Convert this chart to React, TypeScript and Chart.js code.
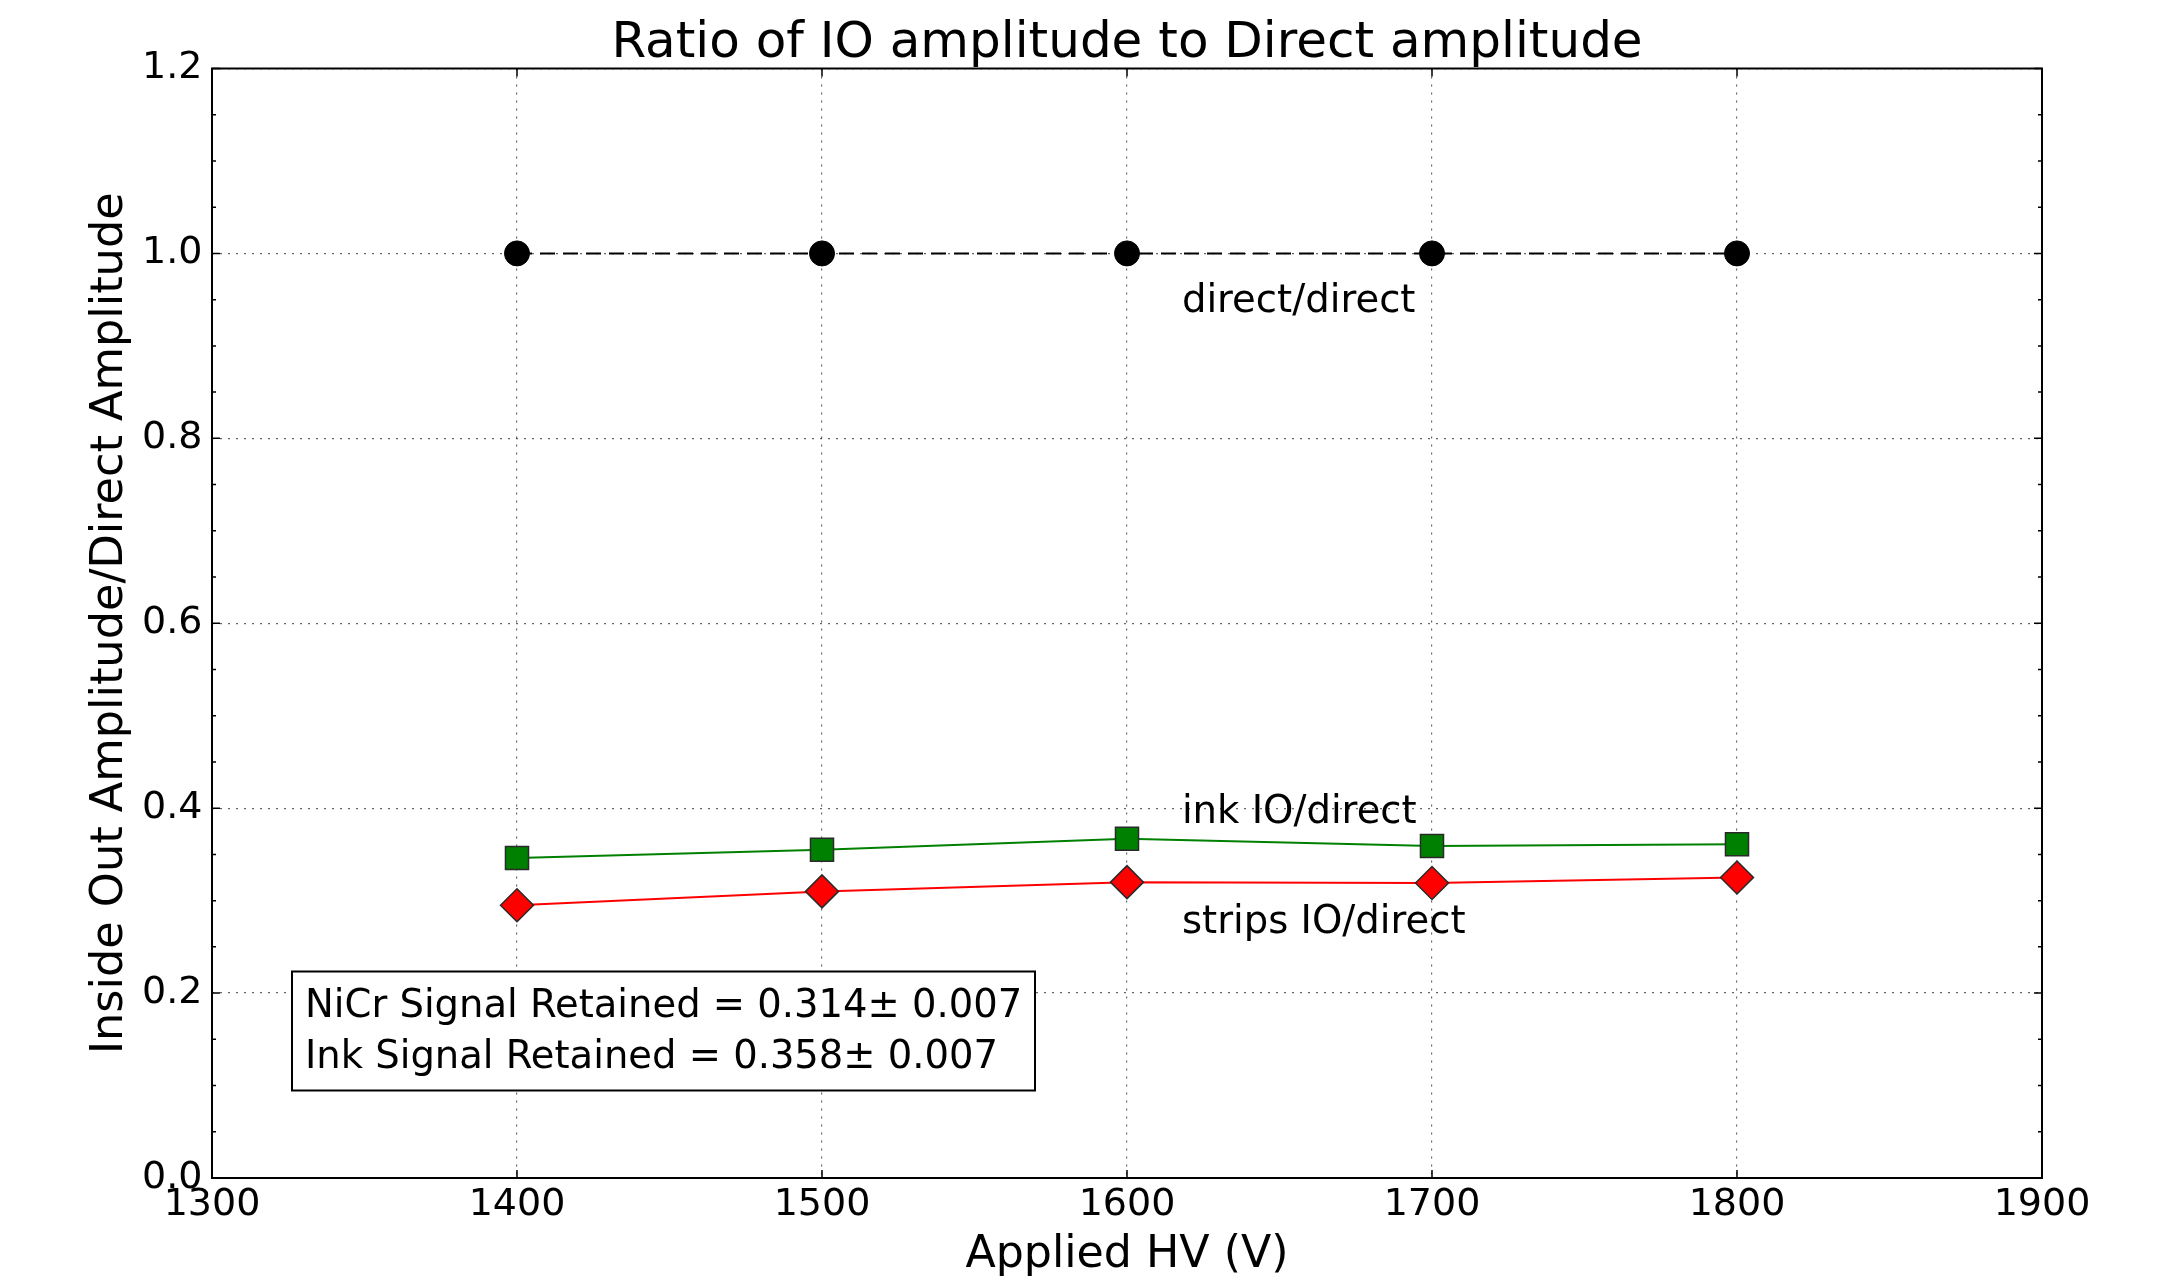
import React, { useEffect, useRef } from 'react';
import { Chart, registerables } from 'chart.js';

Chart.register(...registerables);

// ---- data ----
const hvValues = [1400, 1500, 1600, 1700, 1800];
const directRatio = [1.0, 1.0, 1.0, 1.0, 1.0];
const inkRatio = [0.346, 0.355, 0.367, 0.359, 0.361];
const stripsRatio = [0.295, 0.31, 0.32, 0.319, 0.325];

const xTickValues = [1300, 1400, 1500, 1600, 1700, 1800, 1900];
const xTickLabels = ['1300', '1400', '1500', '1600', '1700', '1800', '1900'];
const yTickValues = [0.0, 0.2, 0.4, 0.6, 0.8, 1.0, 1.2];
const yTickLabels = ['0.0', '0.2', '0.4', '0.6', '0.8', '1.0', '1.2'];
const yMinorTickValues = [0.05, 0.1, 0.15, 0.25, 0.3, 0.35, 0.45, 0.5, 0.55, 0.65, 0.7, 0.75, 0.85, 0.9, 0.95, 1.05, 1.1, 1.15];

const seriesNames = ['direct/direct', 'ink IO/direct', 'strips IO/direct'];
const seriesLabelX = [1618, 1618, 1618];
const seriesLabelY = [0.937, 0.384, 0.265];

const titleText = 'Ratio of IO amplitude to Direct amplitude';
const xAxisTitle = 'Applied HV (V)';
const yAxisTitle = 'Inside Out Amplitude/Direct Amplitude';
const boxLines = ['NiCr Signal Retained = 0.314\u00b1 0.007', 'Ink Signal Retained = 0.358\u00b1 0.007'];

const FONT = '"DejaVu Sans", "Liberation Sans", sans-serif';

const decorPlugin = {
  id: 'decor',
  afterDatasetsDraw(chart: any) {
    const { ctx, chartArea } = chart;
    const xs = chart.scales.x;
    const ys = chart.scales.y;
    const { left, right, top, bottom } = chartArea;
    ctx.save();

    // annotation labels
    ctx.fillStyle = '#000';
    ctx.font = `38.6px ${FONT}`;
    ctx.textAlign = 'left';
    ctx.textBaseline = 'alphabetic';
    seriesNames.forEach((name, i) => {
      ctx.fillText(name, xs.getPixelForValue(seriesLabelX[i]), ys.getPixelForValue(seriesLabelY[i]));
    });

    // text box
    const bx = left + 80;
    const by = top + 903;
    const bw = 743;
    const bh = 119;
    ctx.fillStyle = '#fff';
    ctx.fillRect(bx, by, bw, bh);
    ctx.strokeStyle = '#000';
    ctx.lineWidth = 2;
    ctx.strokeRect(bx, by, bw, bh);
    ctx.fillStyle = '#000';
    ctx.font = `38.5px ${FONT}`;
    ctx.fillText(boxLines[0], bx + 13, by + 45);
    ctx.fillText(boxLines[1], bx + 13, by + 96);

    // frame
    ctx.strokeStyle = '#000';
    ctx.lineWidth = 2;
    ctx.setLineDash([]);
    ctx.strokeRect(left, top, right - left, bottom - top);

    // inward ticks
    ctx.lineWidth = 1.5;
    ctx.beginPath();
    xTickValues.forEach((v) => {
      const px = xs.getPixelForValue(v);
      ctx.moveTo(px, bottom);
      ctx.lineTo(px, bottom - 8);
      ctx.moveTo(px, top);
      ctx.lineTo(px, top + 8);
    });
    yTickValues.forEach((v) => {
      const py = ys.getPixelForValue(v);
      ctx.moveTo(left, py);
      ctx.lineTo(left + 8, py);
      ctx.moveTo(right, py);
      ctx.lineTo(right - 8, py);
    });
    yMinorTickValues.forEach((v) => {
      const py = ys.getPixelForValue(v);
      ctx.moveTo(left, py);
      ctx.lineTo(left + 4, py);
      ctx.moveTo(right, py);
      ctx.lineTo(right - 4, py);
    });
    ctx.stroke();

    // title
    ctx.font = `50px ${FONT}`;
    ctx.textAlign = 'center';
    ctx.textBaseline = 'alphabetic';
    ctx.fillText(titleText, (left + right) / 2, 57);
    ctx.restore();
  },
};

export default function App() {
  const canvasRef = useRef<HTMLCanvasElement | null>(null);

  useEffect(() => {
    if (!canvasRef.current) return;
    Chart.defaults.font.family = FONT;
    Chart.defaults.color = '#000';

    const toPts = (ys: number[]) => hvValues.map((x, i) => ({ x, y: ys[i] }));

    const chart = new Chart(canvasRef.current, {
      type: 'line',
      data: {
        datasets: [
          {
            label: seriesNames[0],
            data: toPts(directRatio),
            borderColor: '#000',
            borderWidth: 2,
            borderDash: [15, 8],
            backgroundColor: '#000',
            pointStyle: 'circle',
            pointRadius: 12.5,
            pointBorderWidth: 1,
            pointBorderColor: '#000',
            pointBackgroundColor: '#000',
            tension: 0,
          },
          {
            label: seriesNames[1],
            data: toPts(inkRatio),
            borderColor: '#008000',
            borderWidth: 2,
            backgroundColor: '#008000',
            pointStyle: 'rect',
            pointRadius: 16.3,
            pointBorderWidth: 1.5,
            pointBorderColor: '#2a2a2a',
            pointBackgroundColor: '#008000',
            tension: 0,
          },
          {
            label: seriesNames[2],
            data: toPts(stripsRatio),
            borderColor: '#ff0000',
            borderWidth: 2,
            backgroundColor: '#ff0000',
            pointStyle: 'rectRot',
            pointRadius: 16.5,
            pointBorderWidth: 1.5,
            pointBorderColor: '#2a2a2a',
            pointBackgroundColor: '#ff0000',
            tension: 0,
          },
        ],
      },
      options: {
        responsive: false,
        animation: false,
        devicePixelRatio: 1,
        layout: { padding: { left: 0, top: 68.5, right: 117, bottom: 0 } },
        plugins: {
          legend: { display: false },
          tooltip: { enabled: false },
          title: { display: false },
        },
        scales: {
          x: {
            type: 'linear',
            min: 1300,
            max: 1900,
            afterBuildTicks: (scale: any) => {
              scale.ticks = xTickValues.map((v) => ({ value: v }));
            },
            afterFit: (scale: any) => {
              scale.height = 107;
            },
            ticks: {
              font: { size: 38 },
              color: '#000',
              padding: 4.2,
              maxRotation: 0,
              autoSkip: false,
              callback: (_v: any, i: number) => xTickLabels[i],
            },
            grid: {
              color: 'rgba(0,0,0,0.6)',
              lineWidth: 1.2,
              drawTicks: false,
              borderDash: [2, 6],
            } as any,
            border: { display: false, dash: [2, 6] },
            title: {
              display: true,
              text: xAxisTitle,
              font: { size: 44.3, lineHeight: 1.2 },
              color: '#000',
              padding: { top: 0, bottom: 2.6 },
            },
          },
          y: {
            type: 'linear',
            min: 0,
            max: 1.2,
            afterBuildTicks: (scale: any) => {
              scale.ticks = yTickValues.map((v) => ({ value: v }));
            },
            afterFit: (scale: any) => {
              scale.width = 212;
            },
            ticks: {
              font: { size: 38 },
              color: '#000',
              padding: 9.5,
              autoSkip: false,
              callback: (_v: any, i: number) => yTickLabels[i],
            },
            grid: {
              color: 'rgba(0,0,0,0.6)',
              lineWidth: 1.2,
              drawTicks: false,
              borderDash: [2, 6],
            } as any,
            border: { display: false, dash: [2, 6] },
            title: {
              display: true,
              text: yAxisTitle,
              font: { size: 44.6, lineHeight: 1.2 },
              color: '#000',
              padding: { top: 84, bottom: 0 },
            },
          },
        },
      } as any,
      plugins: [decorPlugin],
    });

    return () => {
      chart.destroy();
    };
  }, []);

  return (
    <div style={{ position: 'fixed', left: 0, top: 0, width: 2159, height: 1285, background: '#fff' }}>
      <canvas ref={canvasRef} width={2159} height={1285} style={{ display: 'block', width: 2159, height: 1285 }} />
    </div>
  );
}
